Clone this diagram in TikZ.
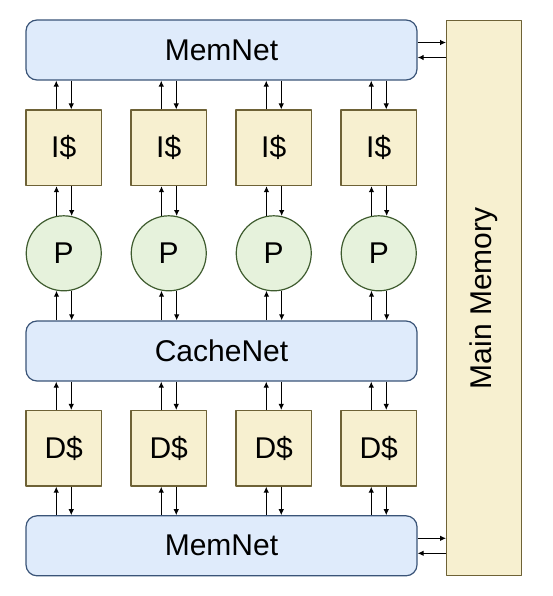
\documentclass[tikz,border=0pt]{standalone}
\usepackage{fontspec}
\setmainfont{Liberation Sans}
\usetikzlibrary{arrows.meta}
\definecolor{netfill}{HTML}{DFEBFB}
\definecolor{netline}{HTML}{3A5478}
\definecolor{cachefill}{HTML}{F7F0D0}
\definecolor{cacheline}{HTML}{6E6236}
\definecolor{procfill}{HTML}{E6F2DC}
\definecolor{procline}{HTML}{3E5B2E}
\begin{document}
\begin{tikzpicture}[x=1pt,y=-1pt,line join=round,>={Latex[length=6pt,width=5.5pt]},
		every node/.style={font=\fontsize{30}{32}\selectfont},
		net/.style={draw=netline,fill=netfill,line width=1.2pt,rounded corners=11pt,minimum width=391pt,minimum height=60pt,inner sep=0pt},
		cache/.style={draw=cacheline,fill=cachefill,line width=1.2pt,minimum width=75.5pt,minimum height=75.5pt,inner sep=0pt},
		proc/.style={circle,draw=procline,fill=procfill,line width=1.2pt,minimum size=75pt,inner sep=0pt},
		link/.style={->,line width=1.1pt}]
	\useasboundingbox (0,0) rectangle (552,596);
	\node[net] (memtop) at (221.5,50) {MemNet};
	\node[net] (cachenet) at (221.5,351) {CacheNet};
	\node[net] (membot) at (221.5,545.8) {MemNet};
	\node[cache,minimum width=75pt,minimum height=555pt] (mainmem) at (484.2,298.2) {};
	\node[rotate=90] (mmtext) at (mainmem.center) {Main Memory};
	% networks <-> main memory
	\draw[link] ([yshift=7.5pt]memtop.east) -- ([yshift=7.5pt]memtop.east -| mainmem.west);
	\draw[link] ([yshift=-7.5pt]memtop.east -| mainmem.west) -- ([yshift=-7.5pt]memtop.east);
	\draw[link] ([yshift=7.5pt]membot.east) -- ([yshift=7.5pt]membot.east -| mainmem.west);
	\draw[link] ([yshift=-7.5pt]membot.east -| mainmem.west) -- ([yshift=-7.5pt]membot.east);
	\foreach \i/\cx in {1/63.75,2/168.75,3/273.75,4/378.75}{
		\node[cache] (ic\i) at (\cx,147.8) {I\$};
		\node[proc] (p\i) at (\cx,253.3) {P};
		\node[cache] (dc\i) at (\cx,448.3) {D\$};
		% up on the left, down on the right
		\draw[link] ([xshift=-7.5pt]ic\i.north) -- ([xshift=-7.5pt]ic\i.north |- memtop.south);
		\draw[link] ([xshift=7.5pt]ic\i.north |- memtop.south) -- ([xshift=7.5pt]ic\i.north);
		\draw[link] (p\i.101.5) -- (p\i.101.5 |- ic\i.south);
		\draw[link] (p\i.78.5 |- ic\i.south) -- (p\i.78.5);
		\draw[link] (p\i.-101.5 |- cachenet.north) -- (p\i.-101.5);
		\draw[link] (p\i.-78.5) -- (p\i.-78.5 |- cachenet.north);
		\draw[link] ([xshift=-7.5pt]dc\i.north) -- ([xshift=-7.5pt]dc\i.north |- cachenet.south);
		\draw[link] ([xshift=7.5pt]dc\i.north |- cachenet.south) -- ([xshift=7.5pt]dc\i.north);
		\draw[link] ([xshift=-7.5pt]dc\i.south |- membot.north) -- ([xshift=-7.5pt]dc\i.south);
		\draw[link] ([xshift=7.5pt]dc\i.south) -- ([xshift=7.5pt]dc\i.south |- membot.north);
	}
\end{tikzpicture}
\end{document}
